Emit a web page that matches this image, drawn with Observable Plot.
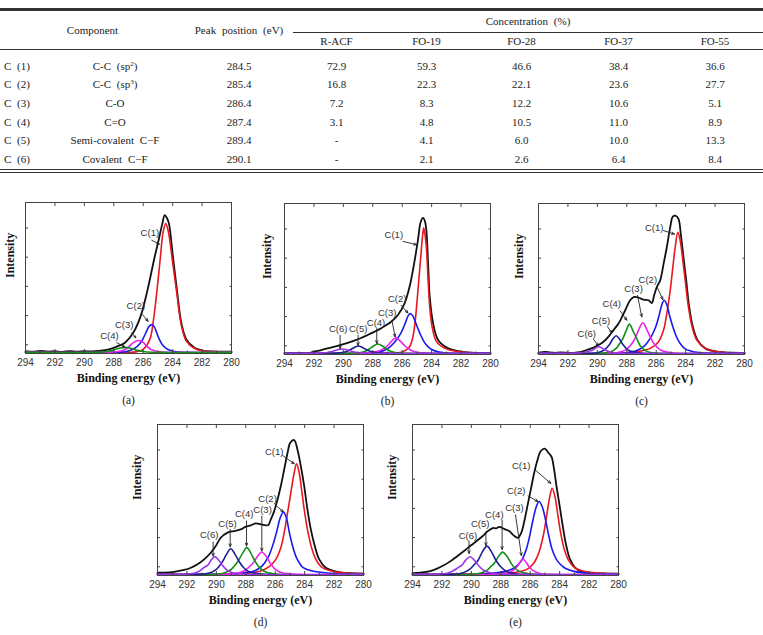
<!DOCTYPE html>
<html>
<head>
<meta charset="utf-8">
<script src="https://cdn.jsdelivr.net/npm/d3@7"></script>
<script src="https://cdn.jsdelivr.net/npm/@observablehq/plot@0.6"></script>
<style>
  body { margin: 0; background: #fff; }
  #page { position: relative; width: 763px; height: 635px; overflow: hidden; background: #fff; }
  #fits { position: absolute; left: 0; top: 8px; width: 763px; border-collapse: collapse; table-layout: fixed;
    font-family: "Liberation Serif", "Times New Roman", "DejaVu Serif", serif; font-size: 11px; color: #222;
    border-top: 3px solid #333; border-bottom: 4px double #333; line-height: 1; }
  #fits th, #fits td { padding: 0; text-align: center; font-weight: normal; white-space: nowrap; word-spacing: 3px; }
  #fits thead { border-bottom: 1px solid #333; }
  #fits tr.r1 th { height: 21px; }
  #fits tr.r2 th { height: 16px; }
  #fits th.conc { border-bottom: 1px solid #333; }
  #fits tbody td { height: 18.6px; }
  #fits tbody tr:first-child td { padding-top: 7px; }
  #fits td.cid { text-align: left; padding-left: 4px; }
  #fits sup { font-size: 7px; vertical-align: 4px; line-height: 0; }
  .panel { position: absolute; }
</style>
</head>
<body>
<div id="page"></div>
<script>
// ---- Table: fitted C1s components ----
const componentIds = ["C (1)", "C (2)", "C (3)", "C (4)", "C (5)", "C (6)"];
const componentNames = ["C-C (sp<sup>2</sup>)", "C-C (sp<sup>3</sup>)", "C-O", "C=O", "Semi-covalent C\u2212F", "Covalent C\u2212F"];
const peakPositions = [284.5, 285.4, 286.4, 287.4, 289.4, 290.1];
const sampleNames = ["R-ACF", "FO-19", "FO-28", "FO-37", "FO-55"];
const concRACF = [72.9, 16.8, 7.2, 3.1, null, null];
const concFO19 = [59.3, 22.3, 8.3, 4.8, 4.1, 2.1];
const concFO28 = [46.6, 22.1, 12.2, 10.5, 6.0, 2.6];
const concFO37 = [38.4, 23.6, 10.6, 11.0, 10.0, 6.4];
const concFO55 = [36.6, 27.7, 5.1, 8.9, 13.3, 8.4];

// ---- Spectra: [binding energy (eV), intensity] ----
const xTickLabels = [294, 292, 290, 288, 286, 284, 282, 280];
const xMinorTicks = [293, 291, 289, 287, 285, 283, 281];

// (a) R-ACF
const aEnvelope = [[294,0.8],[293.5,0.4],[293,0.9],[292.5,0.5],[292,0.7],[291.5,0.3],[291,0.8],[290.5,0.4],[290,0.7],[289.5,0.6],[289,0.9],[288.5,1.6],[288,3.0],[287.6,4.6],[287.24,6.4],[286.68,13.0],[286.18,24.0],[285.71,41.5],[285.22,63.8],[284.95,75],[284.7,85.9],[284.54,91.6],[284.38,89.5],[284.25,85.9],[283.98,63.8],[283.71,41.7],[283.41,19.7],[283.07,8.6],[282.51,3.1],[281.72,0.8],[281,0.5],[280,0.4]];
const aC1 = [[294,0],[287,0],[286.5,0.3],[286.0,2],[285.55,8.6],[285.33,19.7],[285.06,41.7],[284.83,63.8],[284.65,80],[284.47,85.9],[284.3,81],[284.0,60],[283.71,39],[283.41,18],[283.07,7.5],[282.5,2.5],[282,1],[281,0.2],[280,0]];
const aC2 = [[294,0],[288,0],[287.13,0.5],[286.6,2.5],[286.2,6],[286.0,9.3],[285.8,13.5],[285.6,17.3],[285.44,18.5],[285.25,17],[285.1,13.5],[284.93,9.3],[284.7,5],[284.35,2],[283.86,0.5],[283,0],[280,0]];
const aC3 = [[294,0],[288.5,0],[287.7,0.5],[287.2,2],[286.95,4],[286.65,6.6],[286.34,7.9],[286.0,6.6],[285.75,4],[285.5,2],[285,0.5],[284,0],[280,0]];
const aC4 = [[294,0],[289.3,0],[288.6,0.4],[288.1,1.3],[287.7,2.5],[287.24,3.3],[286.8,2.5],[286.4,1.3],[285.9,0.4],[285,0],[280,0]];
const aLabels = [["C(1)",285.55,79.5],["C(2)",286.5,30.7],["C(3)",287.29,18.5],["C(4)",288.3,10.8]];
const aArrows = [[285.42,74.8,284.9,72.2],[286.05,25.2,285.67,20.7],[286.79,13.0,286.5,9.7],[287.8,6.4,287.24,3.4]];

// (b) FO-19
const bEnvelope = [[294,0],[293,0.2],[292.45,0],[291.99,1.1],[291.5,2.2],[291.08,3.3],[290.6,4.4],[290.17,5.6],[289.7,7],[289.26,8.4],[288.8,10.2],[288.35,12.2],[287.9,14.3],[287.43,16.7],[287.1,18.8],[286.75,21.1],[286.29,25.6],[285.84,33.3],[285.5,44.4],[285.15,62.2],[284.93,75.6],[284.74,87.8],[284.58,90.4],[284.45,88],[284.36,82.2],[284.24,60],[284.13,37.8],[283.9,20],[283.56,8.9],[282.87,3.3],[281.96,1.1],[281.05,0.2],[280,0]];
const bC1 = [[294,0],[287,0],[286.5,0.2],[285.95,1.1],[285.5,4.4],[285.27,11.1],[285.11,22.2],[284.93,42.2],[284.74,64.4],[284.62,78],[284.54,83.8],[284.45,79],[284.36,71.1],[284.24,48.9],[284.13,31.1],[283.97,17.8],[283.67,7.8],[283.1,3.3],[282.19,1.1],[281.05,0.2],[280,0]];
const bC2 = [[294,0],[288.5,0],[287.6,0.8],[287.0,3],[286.55,7],[286.1,13.3],[285.8,20],[285.6,25],[285.45,26.5],[285.28,25],[285.07,20],[284.8,13.3],[284.4,6],[284.0,2.5],[283.5,0.8],[282.5,0],[280,0]];
const bC3 = [[294,0],[289,0],[288.2,0.4],[287.6,1.5],[287.2,3.5],[286.98,5.2],[286.75,7.8],[286.41,10.4],[286.1,7.8],[285.84,5.2],[285.6,3.2],[285.2,1.2],[284.6,0.3],[284,0],[280,0]];
const bC4 = [[294,0],[289.5,0],[288.9,0.4],[288.5,1.4],[288.2,3.1],[287.95,4.9],[287.65,6.2],[287.35,4.9],[287.1,3.1],[286.8,1.4],[286.4,0.4],[285.8,0],[280,0]];
const bC5 = [[294,0],[290.8,0],[290.2,0.4],[289.8,1.2],[289.5,2.5],[289.25,3.9],[288.98,4.9],[288.7,3.9],[288.45,2.5],[288.15,1.2],[287.7,0.4],[287,0],[280,0]];
const bC6 = [[294,0],[291.8,0],[291.2,0.4],[290.8,1.1],[290.45,2.2],[290.06,2.9],[289.7,2.2],[289.35,1.1],[288.9,0.4],[288.3,0],[280,0]];
const bLabels = [["C(1)",286.57,78.7],["C(2)",286.34,36.5],["C(3)",287.02,26.9],["C(4)",287.78,20.2],["C(5)",288.99,16.5],["C(6)",290.35,16.5]];
const bArrows = [[285.95,74.7,285.02,72.5],[286.07,32,285.61,26.9],[286.7,22,286.48,10.9],[287.73,16.5,287.73,6.5],[289.0,12,289.0,5.3],[290.22,12,290.22,3.1]];

// (c) FO-28
const cEnvelope = [[294,0.4],[293.5,0.9],[293,0.3],[292.5,0.6],[292,0.4],[291.62,0.3],[291.17,0.7],[290.71,2.2],[290.26,3.8],[289.92,5.5],[289.58,7.7],[289.24,11.1],[288.9,15.5],[288.56,19.9],[288.27,25.4],[288.0,31],[287.77,35.4],[287.5,37.6],[287.2,37.2],[286.86,35.8],[286.52,35.4],[286.3,33.6],[286.14,38.7],[285.96,44.2],[285.73,48.7],[285.5,59.7],[285.28,70.8],[285.05,84.1],[284.87,91.2],[284.67,91.8],[284.48,89.6],[284.33,79.6],[284.15,64.2],[283.96,48.7],[283.76,31],[283.51,17.7],[283.19,8.8],[282.67,3.3],[281.88,1.1],[280.97,0.4],[280,0.3]];
const cC1 = [[294,0],[288.22,0.2],[287.32,1.1],[286.41,3.3],[285.84,7.7],[285.5,15.5],[285.28,26.5],[285.05,42],[284.87,57.5],[284.71,70.8],[284.53,80.8],[284.37,75.2],[284.19,61.9],[284.03,48.7],[283.81,31],[283.56,17.7],[283.24,8.8],[282.67,3.3],[281.88,1.1],[280.97,0.2],[280,0]];
const cC2 = [[294,0],[288.5,0],[287.8,0.8],[287.32,1.8],[286.8,5],[286.35,11],[286.03,17.7],[285.8,25.5],[285.6,33],[285.46,35.4],[285.3,33],[285.1,25.5],[284.87,17.7],[284.55,9.5],[284.1,3.5],[283.6,1.3],[283.0,0.4],[282.3,0],[280,0]];
const cC3 = [[294,0],[289.2,0],[288.45,0.8],[288.0,2.8],[287.65,6.5],[287.43,10.2],[287.2,15.5],[286.91,20.4],[286.62,15.5],[286.37,10.2],[286.12,6],[285.75,2.5],[285.28,0.8],[284.5,0],[280,0]];
const cC4 = [[294,0],[289.9,0],[289.13,0.8],[288.7,3.5],[288.45,7],[288.27,9.8],[288.05,15],[287.82,19.5],[287.58,15],[287.32,9.8],[287.05,4.5],[286.7,1.6],[286.3,0.4],[285.6,0],[280,0]];
const cC5 = [[294,0],[290.6,0],[289.92,0.6],[289.5,2.5],[289.17,5.9],[288.95,9.5],[288.72,11.7],[288.5,9.5],[288.27,5.9],[287.95,2.5],[287.43,0.6],[286.8,0],[280,0]];
const cC6 = [[294,0],[291.6,0],[290.94,0.5],[290.55,1.5],[290.31,2.2],[290.1,3.6],[289.92,4.4],[289.7,3.6],[289.47,2.2],[289.2,1.1],[288.9,0.4],[288.3,0],[280,0]];
const cLabels = [["C(1)",286.14,83.4],["C(2)",286.57,49.1],["C(3)",287.54,43.1],["C(4)",289.02,32.7],["C(5)",289.76,21.5],["C(6)",290.72,12.6]];
const cArrows = [[285.5,81.9,284.76,79.6],[285.96,44.7,285.55,35.8],[287.27,38.7,286.98,24.3],[288.45,28.3,288.0,22.1],[289.31,17.7,289.02,13.7],[290.26,9.3,289.92,5.1]];

// (d) FO-37
const dEnvelope = [[294,1.1],[293.55,1.1],[292.87,1.6],[292.19,2.9],[291.73,4.4],[291.28,6.7],[290.83,10],[290.38,14.4],[290.04,18.9],[289.7,24.4],[289.24,27.8],[288.79,28.9],[288.34,30],[288.0,31.8],[287.66,32.7],[287.32,34],[286.98,33.3],[286.64,32.7],[286.45,33],[286.34,35.6],[286.07,42.2],[285.84,50],[285.62,58.9],[285.39,70],[285.16,81.1],[284.98,87.8],[284.71,89.6],[284.49,83.3],[284.26,72.2],[284.03,58.9],[283.81,43.3],[283.58,30],[283.31,18.9],[283.01,10],[282.56,4.4],[281.77,1.6],[280.86,0.7],[280,0.4]];
const dC1 = [[294,0],[287.88,0.7],[286.98,2.2],[286.41,5.1],[285.96,10],[285.62,17.8],[285.39,27.8],[285.16,41.1],[284.94,54.4],[284.71,67.8],[284.55,73.8],[284.37,67.8],[284.21,56.7],[284.03,43.3],[283.81,30],[283.53,17.8],[283.24,10],[282.79,4.4],[282.0,1.8],[280.86,0.7],[280,0.5]];
const dC2 = [[294,0],[289,0],[288.34,0.7],[287.43,2.2],[286.9,5.5],[286.45,12],[286.12,20.8],[285.9,28.5],[285.65,38],[285.44,41.6],[285.25,38],[285.05,28.5],[284.87,20.8],[284.55,11],[284.1,4.5],[283.47,2.2],[282.22,0.7],[281,0],[280,0]];
const dC3 = [[294,0],[289.3,0],[288.56,0.8],[288.0,3],[287.72,5.5],[287.5,7.5],[287.2,12],[286.91,14.9],[286.62,12],[286.34,7.5],[286.05,3.8],[285.7,1.5],[285.39,0.7],[284.5,0],[280,0]];
const dC4 = [[294,0],[290.2,0],[289.47,0.8],[289.0,3.2],[288.75,5.8],[288.52,8.9],[288.22,14],[287.93,17.8],[287.65,14],[287.38,8.9],[287.1,4.8],[286.75,2],[286.41,0.8],[285.7,0],[280,0]];
const dC5 = [[294,0],[291.2,0],[290.49,0.8],[290.05,3],[289.8,5.5],[289.58,8.5],[289.3,13.5],[289.02,17.1],[288.74,13.5],[288.45,8.5],[288.2,5],[287.85,2],[287.43,0.8],[286.7,0],[280,0]];
const dC6 = [[294,0],[292.2,0],[291.51,0.7],[291.1,2.5],[290.85,4.5],[290.6,5.9],[290.35,9.5],[290.1,11.8],[289.85,9.5],[289.58,5.9],[289.3,3],[288.95,1.2],[288.68,0.6],[288,0],[280,0]];
const dLabels = [["C(1)",286.07,81.6],["C(2)",286.52,50.4],["C(3)",286.86,42.9],["C(4)",288.11,40],["C(5)",289.24,33.3],["C(6)",290.49,26]];
const dArrows = [[285.5,79.3,284.71,73.8],[286.03,46.7,285.44,41.6],[286.91,38.9,286.91,15.6],[287.95,35.6,287.95,18.9],[289.06,30,289.06,18.4],[290.22,21.6,290.22,12.2]];

// (e) FO-55
const eEnvelope = [[294,0.7],[293.47,1.1],[292.79,2.2],[292.33,3.8],[291.87,6],[291.41,8.8],[290.96,12.1],[290.5,15.5],[290.04,19.2],[289.58,22.7],[289.24,25.4],[288.9,28.7],[288.55,30.9],[288.33,30.7],[288.1,31.6],[287.75,30.2],[287.41,28.7],[287.11,25.8],[286.84,24.3],[286.61,27.6],[286.38,36.4],[286.15,47.5],[285.92,58.5],[285.74,67.3],[285.51,76.2],[285.28,82.3],[285.01,83.9],[284.75,81],[284.55,78.4],[284.37,69.5],[284.21,58.5],[284.03,47.5],[283.82,34.2],[283.59,21],[283.29,9.9],[282.95,4.4],[282.49,1.5],[281.58,0.7],[280,0.4]];
const eC1 = [[294,0],[287.75,0.7],[286.84,1.5],[286.15,3.8],[285.74,7.7],[285.42,14.3],[285.12,25.4],[284.89,38.6],[284.67,51.9],[284.51,57.4],[284.32,51.9],[284.14,40.8],[283.93,27.6],[283.68,16.6],[283.36,8.8],[282.95,4.2],[282.26,1.8],[281.35,0.9],[280,0.4]];
const eC2 = [[294,0],[289.5,0],[288.67,0.7],[287.75,1.8],[287.07,4.4],[286.61,8.8],[286.27,16.6],[286.04,25.4],[285.81,36.4],[285.58,45.3],[285.4,48.6],[285.19,45.3],[284.96,36.4],[284.73,25.4],[284.51,16.6],[284.14,8.8],[283.68,4.4],[282.95,1.8],[282.03,0.7],[281,0],[280,0]];
const eC3 = [[294,0],[288.4,0],[287.64,0.6],[287.2,2.5],[286.88,5.2],[286.7,8],[286.5,10.4],[286.28,8],[286.08,5.2],[285.8,2.5],[285.35,0.6],[284.6,0],[280,0]];
const eC4 = [[294,0],[290.1,0],[289.36,0.8],[288.9,3],[288.65,5.5],[288.44,7.4],[288.15,12],[287.87,14.8],[287.58,12],[287.3,7.4],[287.05,4.2],[286.7,1.8],[286.38,0.8],[285.6,0],[280,0]];
const eC5 = [[294,0],[291.4,0],[290.61,0.8],[290.1,3.5],[289.8,6.5],[289.54,9.4],[289.25,15],[288.94,18.8],[288.63,15],[288.33,9.4],[288.05,5.5],[287.7,2.5],[287.3,0.8],[286.5,0],[280,0]];
const eC6 = [[294,0],[292.4,0],[291.64,0.7],[291.2,2.5],[290.9,4.5],[290.66,5.9],[290.38,9.5],[290.09,11.7],[289.8,9.5],[289.52,5.9],[289.2,3],[288.85,1.3],[288.55,0.6],[287.8,0],[280,0]];
const eLabels = [["C(1)",286.61,72.2],["C(2)",286.95,55.8],["C(3)",287.07,44.2],["C(4)",288.44,39.7],["C(5)",289.4,33.8],["C(6)",290.23,25.8]];
const eArrows = [[285.7,70,284.6,60.7],[286.15,52.3,285.47,48.6],[287.0,39.7,286.6,12.5],[287.91,36,287.91,16.6],[289.01,27.6,289.01,19.2],[290.16,22.1,290.16,13.9]];

// ---- Build the table ----
const page = document.getElementById("page");
const concColumns = [concRACF, concFO19, concFO28, concFO37, concFO55];
const fmt = v => v == null ? "-" : v.toFixed(1);
let html = '<table id="fits"><colgroup>' +
  [45, 140, 108, 87, 93, 97, 97, 96].map(w => `<col style="width:${w}px">`).join("") +
  '</colgroup><thead><tr class="r1"><th colspan="2" rowspan="2">Component</th>' +
  '<th rowspan="2">Peak position (eV)</th><th colspan="5" class="conc">Concentration (%)</th></tr>' +
  '<tr class="r2">' + sampleNames.map(s => `<th>${s}</th>`).join("") + '</tr></thead><tbody>';
componentIds.forEach((id, i) => {
  html += `<tr><td class="cid">${id}</td><td>${componentNames[i]}</td><td>${peakPositions[i].toFixed(1)}</td>` +
    concColumns.map(col => `<td>${fmt(col[i])}</td>`).join("") + "</tr>";
});
html += "</tbody></table>";
page.insertAdjacentHTML("beforeend", html);

// ---- Spectra panels ----
const componentColors = ["#ea1620", "#1a1aee", "#ee22ee", "#129018", "#1c1c98", "#9a33e6"];
const frameW = 206, frameH = 151, mL = 25, mR = 12, mT = 10, mB = 60;
const serif = "'Liberation Serif', 'Times New Roman', 'DejaVu Serif', serif";
const sans = "'Liberation Sans', Arial, sans-serif";
const noText = () => "";

const panels = [
  {envelope: aEnvelope, components: [aC1, aC2, aC3, aC4], labels: aLabels, arrows: aArrows, caption: "(a)", left: 0, top: 192, ylabelDx: -15},
  {envelope: bEnvelope, components: [bC1, bC2, bC3, bC4, bC5, bC6], labels: bLabels, arrows: bArrows, caption: "(b)", left: 258.5, top: 193, ylabelDx: -17},
  {envelope: cEnvelope, components: [cC1, cC2, cC3, cC4, cC5, cC6], labels: cLabels, arrows: cArrows, caption: "(c)", left: 513, top: 193, ylabelDx: -19},
  {envelope: dEnvelope, components: [dC1, dC2, dC3, dC4, dC5, dC6], labels: dLabels, arrows: dArrows, caption: "(d)", left: 132, top: 414, ylabelDx: -20},
  {envelope: eEnvelope, components: [eC1, eC2, eC3, eC4, eC5, eC6], labels: eLabels, arrows: eArrows, caption: "(e)", left: 386.5, top: 414, ylabelDx: -20}
];

for (const p of panels) {
  const chart = Plot.plot({
    width: mL + frameW + mR,
    height: mT + frameH + mB,
    marginLeft: mL, marginRight: mR, marginTop: mT, marginBottom: mB,
    style: {background: "transparent", overflow: "visible", fontFamily: sans, color: "#333"},
    x: {domain: [294, 280]},
    y: {domain: [-0.8, 100]},
    marks: [
      Plot.line(p.envelope, {x: d => d[0], y: d => d[1], stroke: "#111", strokeWidth: 1.8, curve: "catmull-rom"}),
      ...p.components.map((c, i) => Plot.line(c, {x: d => d[0], y: d => d[1], stroke: componentColors[i], strokeWidth: 1.6, curve: "catmull-rom"})),
      Plot.frame({stroke: "#444", strokeWidth: 1}),
      Plot.axisX(xTickLabels, {anchor: "bottom", tickSize: -4, tickPadding: 9, fontSize: 10, fill: "#333", stroke: "#444", label: null}),
      Plot.axisX(xMinorTicks, {anchor: "bottom", tickSize: -2.5, tickFormat: noText, stroke: "#444", label: null}),
      Plot.axisX(xTickLabels, {anchor: "top", tickSize: -3, tickFormat: noText, stroke: "#444", label: null}),
      Plot.axisY([5, 24.5, 44, 63.5, 83], {anchor: "left", tickSize: -3, tickFormat: noText, stroke: "#444", label: null}),
      Plot.axisY([5, 24.5, 44, 63.5, 83], {anchor: "right", tickSize: -2.5, tickFormat: noText, stroke: "#444", label: null}),
      Plot.arrow(p.arrows, {x1: d => d[0], y1: d => d[1], x2: d => d[2], y2: d => d[3], stroke: "#222", strokeWidth: 0.9, headLength: 5, headAngle: 45}),
      Plot.text(p.labels, {x: d => d[1], y: d => d[2], text: d => d[0], fontSize: 9.5, fill: "#333", fontFamily: sans}),
      Plot.text(["Binding energy (eV)"], {frameAnchor: "bottom", dy: 28, fontFamily: serif, fontWeight: "bold", fontSize: 12, fill: "#111"}),
      Plot.text(["Intensity"], {frameAnchor: "left", dx: p.ylabelDx, rotate: -90, fontFamily: serif, fontWeight: "bold", fontSize: 12, fill: "#111"}),
      Plot.text([p.caption], {frameAnchor: "bottom", dy: 50, fontFamily: serif, fontSize: 11.5, fill: "#222"})
    ]
  });
  const holder = document.createElement("div");
  holder.className = "panel";
  holder.style.left = p.left + "px";
  holder.style.top = p.top + "px";
  holder.appendChild(chart);
  page.appendChild(holder);
}
</script>
</body>
</html>
